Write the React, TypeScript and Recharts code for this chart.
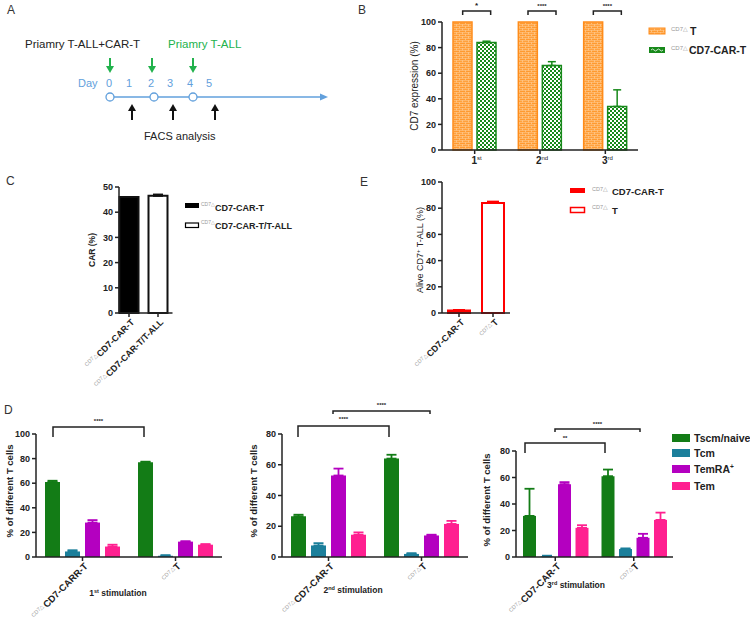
import React from 'react';
import { BarChart, Bar, XAxis, YAxis, ErrorBar, Cell } from 'recharts';

const FONT = '"Liberation Sans", Arial, Helvetica, sans-serif';
const INK = '#222';

// ---------- Panel B : CD7 expression ----------
const bStimulations = ['1st', '2nd', '3rd'];
const bCd7T = [100, 100, 100];
const bCd7CarT = [84, 66, 34];
const bCd7CarTErr = [1, 3, 13];

// ---------- Panel C : CAR (%) ----------
const cGroups = ['CD7-CAR-T', 'CD7-CAR-T/T-ALL'];
const cCarPct = [46, 46.5];
const cCarErr = [0, 0.5];

// ---------- Panel E : Alive CD7+ T-ALL (%) ----------
const eGroups = ['CD7-CAR-T', 'T'];
const eAlive = [2, 84];
const eAliveErr = [0.3, 1];

// ---------- Panel D : T cell subsets ----------
const dGroupsStim1 = ['CD7-CARR-T', 'T'];
const dGroups = ['CD7-CAR-T', 'T'];
const dSubsets = ['Tscm/naive', 'Tcm', 'TemRA', 'Tem'];
const dColors = ['#137c16', '#1b7f9b', '#b400c0', '#ff2090'];

const s1Tscm = [61, 77];
const s1TscmErr = [1, 0.5];
const s1Tcm = [4.5, 1];
const s1TcmErr = [1, 0.5];
const s1TemRA = [28, 12.5];
const s1TemRAErr = [2, 0.3];
const s1Tem = [8.5, 10];
const s1TemErr = [1.5, 0.5];

const s2Tscm = [26.5, 64];
const s2TscmErr = [1, 2.5];
const s2Tcm = [7.5, 2];
const s2TcmErr = [1.5, 0.5];
const s2TemRA = [53, 14];
const s2TemRAErr = [4.5, 0.5];
const s2Tem = [14.5, 21.5];
const s2TemErr = [1.5, 2];

const s3Tscm = [31, 61];
const s3TscmErr = [20.5, 5];
const s3Tcm = [0.5, 6];
const s3TcmErr = [0.5, 0.5];
const s3TemRA = [55, 14.5];
const s3TemRAErr = [1.5, 3];
const s3Tem = [22, 28];
const s3TemErr = [2, 5.5];

// ---------- derived tables ----------
const bData = bStimulations.map((s, i) => ({
  name: s,
  t: bCd7T[i],
  car: bCd7CarT[i],
  carErr: [0, bCd7CarTErr[i]],
}));
const cData = cGroups.map((g, i) => ({ name: g, v: cCarPct[i], err: [0, cCarErr[i]] }));
const eData = eGroups.map((g, i) => ({ name: g, v: eAlive[i], err: [0, eAliveErr[i]] }));

const mkD = (groups: string[], vals: number[][], errs: number[][]) =>
  groups.map((g, i) => {
    const row: any = { name: g };
    vals.forEach((arr, k) => {
      row['s' + k] = arr[i];
      row['e' + k] = [0, errs[k][i]];
    });
    return row;
  });

const d1Data = mkD(dGroupsStim1, [s1Tscm, s1Tcm, s1TemRA, s1Tem], [s1TscmErr, s1TcmErr, s1TemRAErr, s1TemErr]);
const d2Data = mkD(dGroups, [s2Tscm, s2Tcm, s2TemRA, s2Tem], [s2TscmErr, s2TcmErr, s2TemRAErr, s2TemErr]);
const d3Data = mkD(dGroups, [s3Tscm, s3Tcm, s3TemRA, s3Tem], [s3TscmErr, s3TcmErr, s3TemRAErr, s3TemErr]);

// ---------- layout helpers ----------
type Plot = { l: number; r: number; t: number; b: number };
type Box = { left: number; top: number; w: number; h: number };
const marginOf = (box: Box, p: Plot, yW: number, xH: number) => ({
  left: p.l - box.left - yW,
  right: box.left + box.w - p.r,
  top: p.t - box.top,
  bottom: box.top + box.h - p.b - xH,
});

const AX = { stroke: INK, strokeWidth: 1.5 };
const YTICK = { fontSize: 9, fontWeight: 'bold', fill: INK, fontFamily: FONT };

function OrdTick(props: any) {
  const { x, y, payload } = props;
  const m = /^(\d+)(\D+)$/.exec(String(payload.value)) || ['', payload.value, ''];
  return (
    <text x={x + 2} y={y + 8} textAnchor="middle" fontFamily={FONT} fontWeight="bold" fill={INK} fontSize={10}>
      {m[1]}
      <tspan fontSize={6} dy={-4} fontWeight="normal">{m[2]}</tspan>
    </text>
  );
}

function makeRotTick(rot: number, size: number) {
  return (props: any) => {
    const { x, y, payload } = props;
    return (
      <g transform={`translate(${x + 3},${y + 1}) rotate(${rot})`}>
        <text x={0} y={4} textAnchor="end" fontFamily={FONT}>
          <tspan fontSize={5.5} fill="#a0a0a0" dy={-3}>CD7△</tspan>
          <tspan fontSize={size} fontWeight="bold" fill={INK} dy={3}>{payload.value}</tspan>
        </text>
      </g>
    );
  };
}
const rotTickC = makeRotTick(-45, 9);
const rotTickD = makeRotTick(-45, 9.5);

// ---------- charts ----------
const boxB: Box = { left: 360, top: 0, w: 290, h: 190 };
const plotB: Plot = { l: 442, r: 638, t: 22, b: 150 };

function ChartB() {
  return (
    <div style={{ position: 'absolute', left: boxB.left, top: boxB.top }}>
      <BarChart width={boxB.w} height={boxB.h} data={bData} margin={marginOf(boxB, plotB, 40, 25)} barSize={19} barGap={5}>
        <XAxis dataKey="name" height={25} tick={(p: any) => <OrdTick {...p} />} tickSize={4} axisLine={AX} tickLine={AX} interval={0} />
        <YAxis width={40} domain={[0, 100]} ticks={[0, 20, 40, 60, 80, 100]} tickSize={4} axisLine={AX} tickLine={AX} tick={YTICK} />
        <Bar dataKey="t" fill="url(#brick)" stroke="#ff8c1a" strokeWidth={1.5} isAnimationActive={false} />
        <Bar dataKey="car" fill="url(#checker)" stroke="#17891a" strokeWidth={1.5} isAnimationActive={false}>
          <ErrorBar dataKey="carErr" width={4} stroke="#17891a" strokeWidth={1.5} direction="y" isAnimationActive={false} />
        </Bar>
      </BarChart>
    </div>
  );
}

const boxC: Box = { left: 60, top: 175, w: 130, h: 230 };
const plotC: Plot = { l: 119, r: 172.5, t: 187, b: 313 };
const cFills = ['#000000', '#ffffff'];

function ChartC() {
  return (
    <div style={{ position: 'absolute', left: boxC.left, top: boxC.top }}>
      <BarChart width={boxC.w} height={boxC.h} data={cData} margin={marginOf(boxC, plotC, 40, 30)} barSize={19}>
        <XAxis dataKey="name" height={30} padding={{ left: -4.5, right: 0 }} tick={rotTickC} tickSize={4} axisLine={AX} tickLine={AX} interval={0} />
        <YAxis width={40} domain={[0, 50]} ticks={[0, 10, 20, 30, 40, 50]} tickSize={4} axisLine={AX} tickLine={AX} tick={YTICK} />
        <Bar dataKey="v" stroke="#111" strokeWidth={2} isAnimationActive={false}>
          {cData.map((d, i) => (
            <Cell key={d.name} fill={cFills[i]} />
          ))}
          <ErrorBar dataKey="err" width={5} stroke="#111" strokeWidth={2} direction="y" isAnimationActive={false} />
        </Bar>
      </BarChart>
    </div>
  );
}

const boxE: Box = { left: 380, top: 175, w: 150, h: 230 };
const plotE: Plot = { l: 442, r: 510, t: 182, b: 313 };
const eFills = ['#ff0000', '#ffffff'];

function ChartE() {
  return (
    <div style={{ position: 'absolute', left: boxE.left, top: boxE.top }}>
      <BarChart width={boxE.w} height={boxE.h} data={eData} margin={marginOf(boxE, plotE, 40, 30)} barSize={22}>
        <XAxis dataKey="name" height={30} tick={rotTickC} tickSize={4} axisLine={AX} tickLine={AX} interval={0} />
        <YAxis width={40} domain={[0, 100]} ticks={[0, 20, 40, 60, 80, 100]} tickSize={4} axisLine={AX} tickLine={AX} tick={YTICK} />
        <Bar dataKey="v" stroke="#ff0000" strokeWidth={2} isAnimationActive={false}>
          {eData.map((d, i) => (
            <Cell key={d.name} fill={eFills[i]} />
          ))}
          <ErrorBar dataKey="err" width={6} stroke="#ff0000" strokeWidth={2} direction="y" isAnimationActive={false} />
        </Bar>
      </BarChart>
    </div>
  );
}

function DChart(props: { box: Box; plot: Plot; data: any[]; max: number; barSize: number; gap: number }) {
  const { box, plot, data, max, barSize, gap } = props;
  const ticks: number[] = [];
  for (let v = 0; v <= max; v += 20) ticks.push(v);
  return (
    <div style={{ position: 'absolute', left: box.left, top: box.top }}>
      <BarChart width={box.w} height={box.h} data={data} margin={marginOf(box, plot, 30, 30)} barSize={barSize} barGap={gap}>
        <XAxis dataKey="name" height={30} tick={rotTickD} tickSize={4} axisLine={AX} tickLine={AX} interval={0} />
        <YAxis width={30} domain={[0, max]} ticks={ticks} tickSize={4} axisLine={AX} tickLine={AX} tick={YTICK} />
        {dSubsets.map((s, k) => (
          <Bar key={s} dataKey={'s' + k} fill={dColors[k]} isAnimationActive={false}>
            <ErrorBar dataKey={'e' + k} width={5} stroke={dColors[k]} strokeWidth={1.8} direction="y" isAnimationActive={false} />
          </Bar>
        ))}
      </BarChart>
    </div>
  );
}

const boxD1: Box = { left: 0, top: 400, w: 240, h: 219 };
const plotD1: Plot = { l: 36, r: 222, t: 434, b: 557 };
const boxD2: Box = { left: 240, top: 400, w: 245, h: 219 };
const plotD2: Plot = { l: 282, r: 468, t: 434, b: 557 };
const boxD3: Box = { left: 485, top: 400, w: 200, h: 219 };
const plotD3: Plot = { l: 516, r: 673, t: 451, b: 557 };

// ---------- overlay annotations ----------
function Bracket({ x1, x2, y, drop, label, ly, fs = 6 }: any) {
  return (
    <g>
      <path d={`M${x1},${y + drop} V${y} H${x2} V${y + drop}`} fill="none" stroke={INK} strokeWidth={1.5} />
      <text x={(x1 + x2) / 2} y={ly} textAnchor="middle" fontSize={fs} fontWeight="bold" fill={INK} fontFamily={FONT}>{label}</text>
    </g>
  );
}

function Overlay() {
  const green = '#22b24c';
  const blue = '#62a0dc';
  const bBand = (plotB.r - plotB.l) / bStimulations.length;
  const bSig = ['*', '****', '****'];
  const dayX = [109, 129, 151, 170, 190, 209];
  return (
    <svg width={750} height={619} style={{ position: 'absolute', left: 0, top: 0, zIndex: 10, pointerEvents: 'none' }} fontFamily={FONT}>
      {/* panel letters */}
      <text x={7} y={14} fontSize={12} fill="#333">A</text>
      <text x={358} y={14} fontSize={12} fill="#333">B</text>
      <text x={6} y={185} fontSize={12} fill="#333">C</text>
      <text x={360} y={186} fontSize={12} fill="#333">E</text>
      <text x={4} y={414} fontSize={12} fill="#333">D</text>

      {/* Panel A diagram */}
      <text x={25} y={48} fontSize={11.5} fill="#222">Priamry T-ALL+CAR-T</text>
      <text x={168} y={48} fontSize={11.5} fill={green}>Priamry T-ALL</text>
      {[110, 152, 193].map((x) => (
        <g key={'g' + x}>
          <line x1={x} y1={58} x2={x} y2={67} stroke={green} strokeWidth={2} />
          <path d={`M${x - 4},66 L${x + 4},66 L${x},73 Z`} fill={green} />
        </g>
      ))}
      <text x={78} y={87} fontSize={11} fill={blue}>Day</text>
      {dayX.map((x, i) => (
        <text key={'d' + i} x={x} y={87} fontSize={11} fill={blue} textAnchor="middle">{i}</text>
      ))}
      <line x1={110} y1={97} x2={321} y2={97} stroke={blue} strokeWidth={1.5} />
      <path d="M320,93.5 L328,97 L320,100.5 Z" fill={blue} />
      {[110, 154, 193].map((x) => (
        <circle key={'c' + x} cx={x} cy={97} r={4} fill="#fff" stroke={blue} strokeWidth={1.3} />
      ))}
      {[132, 173, 215].map((x) => (
        <g key={'b' + x}>
          <line x1={x} y1={110} x2={x} y2={120} stroke="#111" strokeWidth={2} />
          <path d={`M${x - 4},111 L${x + 4},111 L${x},104 Z`} fill="#111" />
        </g>
      ))}
      <text x={144} y={140} fontSize={11} fill="#222">FACS analysis</text>

      {/* Panel B annotations */}
      <text transform="translate(418,86) rotate(-90)" textAnchor="middle" fontSize={10} fill={INK}>CD7 expression (%)</text>
      {bStimulations.map((s, i) => {
        const c = plotB.l + (i + 0.5) * bBand;
        return <Bracket key={s} x1={c - 12} x2={c + 16} y={11} drop={4} label={bSig[i]} ly={8} fs={i === 0 ? 8 : 6} />;
      })}
      <rect x={649} y={28} width={16} height={6} fill="url(#brick)" stroke="#ff8c1a" strokeWidth={1} />
      <text x={671} y={31} fontSize={6} fill="#999">CD7△</text>
      <text x={690} y={35} fontSize={10.5} fontWeight="bold" fill={INK}>T</text>
      <rect x={649} y={47} width={16} height={6} fill="#17891a" />
      <path d="M651,50 q1.5,-2 3,0 t3,0 t3,0 t3,0" fill="none" stroke="#fff" strokeWidth={0.8} />
      <text x={671} y={50} fontSize={6} fill="#999">CD7△</text>
      <text x={689} y={54} fontSize={10.5} fontWeight="bold" fill={INK}>CD7-CAR-T</text>

      {/* Panel C annotations */}
      <text transform="translate(95,250) rotate(-90)" textAnchor="middle" fontSize={8.5} fontWeight="bold" fill={INK}>CAR (%)</text>
      <rect x={185} y={203} width={14} height={5} fill="#000" />
      <rect x={185.5} y={223} width={13} height={4.5} fill="#fff" stroke="#000" strokeWidth={1.2} />
      <text x={201} y={206} fontSize={5} fill="#999">CD7△</text>
      <text x={215} y={211} fontSize={9} fontWeight="bold" fill={INK}>CD7-CAR-T</text>
      <text x={201} y={224} fontSize={5} fill="#999">CD7△</text>
      <text x={215} y={229} fontSize={9} fontWeight="bold" fill={INK}>CD7-CAR-T/T-ALL</text>

      {/* Panel E annotations */}
      <text transform="translate(423,250) rotate(-90)" textAnchor="middle" fontSize={9} fill={INK}>
        Alive CD7<tspan fontSize={6} dy={-3}>+</tspan><tspan dy={3}> T-ALL (%)</tspan>
      </text>
      <rect x={570} y={188} width={15} height={5} fill="#ff0000" />
      <rect x={570.5} y={207.5} width={14} height={5} fill="#fff" stroke="#ff0000" strokeWidth={1.5} />
      <text x={592} y={191} fontSize={5.5} fill="#999">CD7△</text>
      <text x={612} y={195} fontSize={9.5} fontWeight="bold" fill={INK}>CD7-CAR-T</text>
      <text x={592} y={209} fontSize={5.5} fill="#999">CD7△</text>
      <text x={612} y={214} fontSize={9.5} fontWeight="bold" fill={INK}>T</text>

      {/* Panel D annotations */}
      <text transform="translate(13,491) rotate(-90)" textAnchor="middle" fontSize={9.5} fontWeight="bold" fill={INK}>% of different T cells</text>
      <text transform="translate(257,491) rotate(-90)" textAnchor="middle" fontSize={9.5} fontWeight="bold" fill={INK}>% of different T cells</text>
      <text transform="translate(490,500) rotate(-90)" textAnchor="middle" fontSize={9.5} fontWeight="bold" fill={INK}>% of different T cells</text>

      <Bracket x1={53} x2={144} y={427} drop={10} label="****" ly={423} />
      <Bracket x1={298} x2={389} y={426} drop={11} label="****" ly={421} />
      <Bracket x1={333} x2={430} y={411} drop={3} label="****" ly={407} />
      <Bracket x1={525} x2={605} y={443} drop={10} label="**" ly={440} />
      <Bracket x1={555} x2={640} y={429} drop={3} label="****" ly={426} />

      <text x={118} y={596} textAnchor="middle" fontSize={8.5} fontWeight="bold" fill={INK}>1<tspan fontSize={5.5} dy={-3}>st</tspan><tspan dy={3}> stimulation</tspan></text>
      <text x={353} y={593} textAnchor="middle" fontSize={8.5} fontWeight="bold" fill={INK}>2<tspan fontSize={5.5} dy={-3}>nd</tspan><tspan dy={3}> stimulation</tspan></text>
      <text x={576} y={588} textAnchor="middle" fontSize={8.5} fontWeight="bold" fill={INK}>3<tspan fontSize={5.5} dy={-3}>rd</tspan><tspan dy={3}> stimulation</tspan></text>

      {dSubsets.map((s, k) => {
        const y = [434, 449, 465, 482][k];
        return (
          <g key={s}>
            <rect x={672} y={y} width={18} height={8} fill={dColors[k]} />
            <text x={694} y={y + 8} fontSize={10.5} fontWeight="bold" fill={INK}>
              {s}
              {s === 'TemRA' ? <tspan fontSize={6.5} dy={-4}>+</tspan> : null}
            </text>
          </g>
        );
      })}
    </svg>
  );
}

function Patterns() {
  return (
    <svg width={0} height={0} style={{ position: 'absolute' }}>
      <defs>
        <pattern id="brick" width={6} height={4} patternUnits="userSpaceOnUse">
          <rect width={6} height={4} fill="#ff9a30" />
          <path d="M0,0.3 H6 M0,2.3 H6 M0.5,0.3 V2.3 M3.5,2.3 V4.3" stroke="#ffd6a6" strokeWidth={0.6} fill="none" />
        </pattern>
        <pattern id="checker" width={4} height={4} patternUnits="userSpaceOnUse">
          <rect width={4} height={4} fill="#ffffff" />
          <rect x={0} y={0} width={2} height={2} fill="#17891a" />
          <rect x={2} y={2} width={2} height={2} fill="#17891a" />
        </pattern>
      </defs>
    </svg>
  );
}

export default function App() {
  return (
    <div style={{ position: 'absolute', left: 0, top: 0, width: 750, height: 619, background: '#fff', fontFamily: FONT, overflow: 'hidden' }}>
      <Patterns />
      <ChartB />
      <ChartC />
      <ChartE />
      <DChart box={boxD1} plot={plotD1} data={d1Data} max={100} barSize={15} gap={5} />
      <DChart box={boxD2} plot={plotD2} data={d2Data} max={80} barSize={15} gap={5} />
      <DChart box={boxD3} plot={plotD3} data={d3Data} max={80} barSize={13} gap={4.5} />
      <Overlay />
    </div>
  );
}
